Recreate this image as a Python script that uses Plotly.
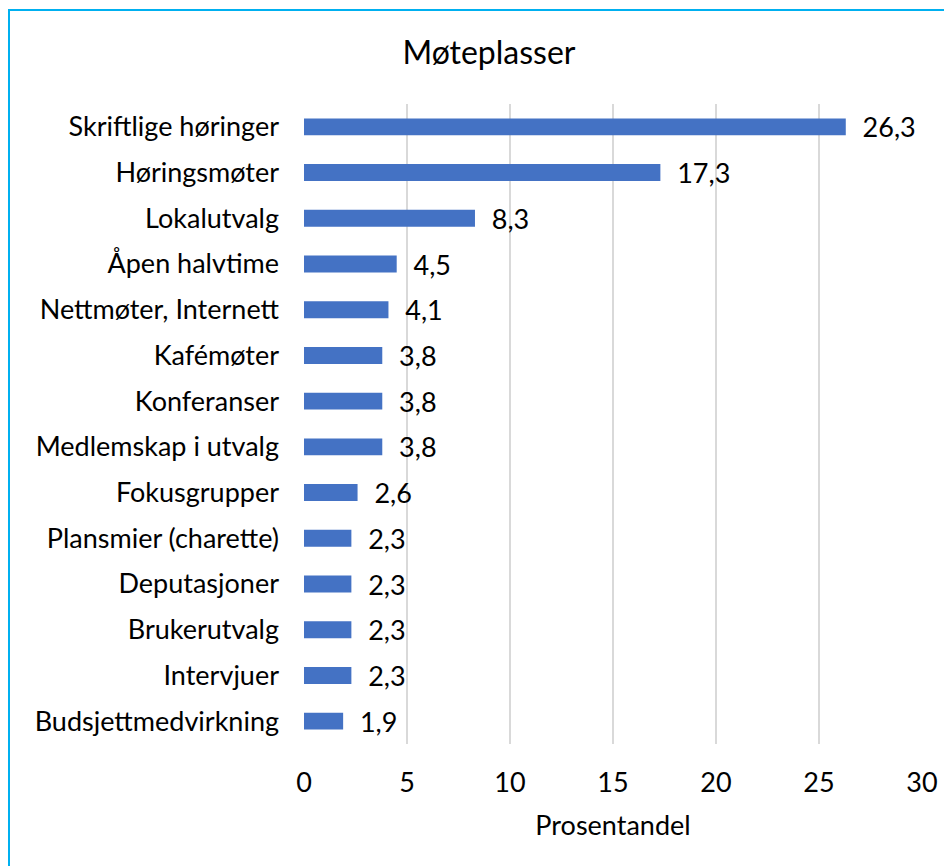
import plotly.graph_objects as go

categories = ["Skriftlige høringer", "Høringsmøter", "Lokalutvalg", "Åpen halvtime",
              "Nettmøter, Internett", "Kafémøter", "Konferanser", "Medlemskap i utvalg",
              "Fokusgrupper", "Plansmier (charette)", "Deputasjoner", "Brukerutvalg",
              "Intervjuer", "Budsjettmedvirkning"]
values = [26.3, 17.3, 8.3, 4.5, 4.1, 3.8, 3.8, 3.8, 2.6, 2.3, 2.3, 2.3, 2.3, 1.9]
labels = ["\u00a0\u00a0" + f"{v:.1f}".replace(".", ",") for v in values]

FONT = "Lato, 'Open Sans', sans-serif"
FS = 27

OFF = 8  # page body margin
W, H = 952 - OFF, 866 - OFF
L, R, T, B = 304 - OFF, 30, 104 - OFF, 122
pw, ph = W - L - R, H - T - B


def px_x(p):
    return (p - OFF - L) / pw


def px_y(p):
    return (H - B - (p - OFF)) / ph


fig = go.Figure(go.Bar(
    x=values, y=categories, orientation="h",
    marker=dict(color="#4472C4", line=dict(width=0)),
    text=labels, textposition="outside", cliponaxis=False, constraintext="none",
    textfont=dict(family=FONT, size=FS, color="#000000"),
    width=0.37,
))

fig.update_layout(
    width=W, height=H,
    margin=dict(l=L, r=R, t=T, b=B),
    paper_bgcolor="white", plot_bgcolor="white",
    font=dict(family=FONT, size=FS, color="#000000"),
    title=dict(text="Møteplasser", x=(489 - OFF) / W, xanchor="center",
               y=1 - (53 - OFF) / H, yanchor="middle",
               font=dict(family=FONT, size=32, color="#000000")),
    showlegend=False,
    xaxis=dict(range=[0, 30], dtick=5, showgrid=True, gridcolor="#D9D9D9", gridwidth=1.5,
               zeroline=False, showline=False, ticks="", ticklabelstandoff=20,
               tickfont=dict(size=FS),
               title=dict(text="Prosentandel", font=dict(size=FS), standoff=19)),
    yaxis=dict(autorange="reversed", showgrid=False, zeroline=False, showline=False,
               ticks="", ticklabelstandoff=24, tickfont=dict(size=FS)),
    shapes=[dict(type="rect", xref="paper", yref="paper",
                 x0=px_x(9), x1=px_x(965), y0=px_y(880), y1=px_y(10),
                 line=dict(color="#00B0F0", width=2), fillcolor="rgba(0,0,0,0)", layer="above")],
)

fig.write_html("out.html")
